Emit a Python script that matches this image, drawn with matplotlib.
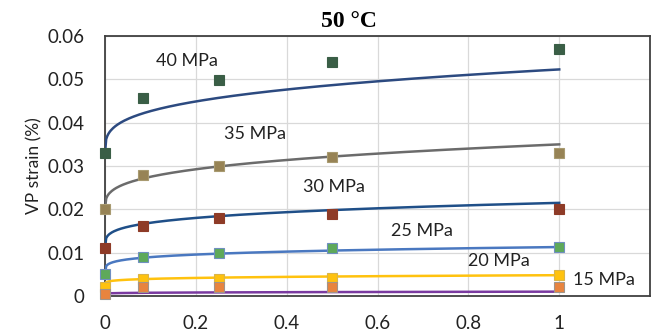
import numpy as np
import matplotlib
matplotlib.use("Agg")
import matplotlib.pyplot as plt

# Data (time, VP strain %)
t_obs = [0, 0.083, 0.25, 0.5, 1.0]
labels = ["40 MPa", "35 MPa", "30 MPa", "25 MPa", "20 MPa", "15 MPa"]
obs_40 = [0.033, 0.0458, 0.0498, 0.0540, 0.0571]
obs_35 = [0.0201, 0.0280, 0.0300, 0.0320, 0.0329]
obs_30 = [0.0110, 0.0162, 0.0180, 0.0190, 0.0200]
obs_25 = [0.0050, 0.0090, 0.0099, 0.0110, 0.0112]
obs_20 = [0.0020, 0.0040, 0.0040, 0.0042, 0.0049]
obs_15 = [0.0004, 0.0020, 0.0020, 0.0020, 0.0020]

# fitted curve parameters: eps = a + b * t^n
fit_a = [0.033, 0.020, 0.011, 0.005, 0.0025, 0.0005]
fit_b = [0.0193, 0.015, 0.0105, 0.0063, 0.0023, 0.0005]
fit_n = [0.30, 0.30, 0.25, 0.20, 0.20, 0.30]

marker_colors = ["#3a5e46", "#978355", "#8e3b27", "#5ea95a", "#ffc20e", "#e8843e"]
marker_edges = ["#3a5e46", "#a89a70", "#8e3b27", "#6f8fc0", "#d9b44a", "#a0948a"]
line_colors = ["#2c4a80", "#6b6b6b", "#1f4f88", "#4a78c0", "#ffc20e", "#7a3aa0"]

ann_x = [0.18, 0.33, 0.505, 0.697, 0.868, 1.099]
ann_y = [0.0542, 0.0374, 0.0252, 0.0150, 0.0081, 0.0037]

obs = [obs_40, obs_35, obs_30, obs_25, obs_20, obs_15]

fig = plt.figure(figsize=(6.54, 3.34), dpi=100)
ax = fig.add_axes([0.1606, 0.1138, 0.8334, 0.7782])

tt = np.linspace(0, 1, 400)
for i in range(len(labels)):
    ax.plot(tt, fit_a[i] + fit_b[i] * tt ** fit_n[i], color=line_colors[i],
            lw=1.8, zorder=3)
for i in range(len(labels)):
    ax.plot(t_obs, obs[i], ls="none", marker="s", ms=6.5,
            mfc=marker_colors[i], mec=marker_edges[i], mew=0.8, zorder=4,
            clip_on=False)

for i in range(len(labels)):
    ax.text(ann_x[i], ann_y[i], labels[i], ha="center", va="center",
            fontsize=13, family="Lato", color="#222222")

ax.set_xlim(0, 1.2)
ax.set_ylim(0, 0.06)
ax.set_xticks([0, 0.2, 0.4, 0.6, 0.8, 1.0, 1.2])
ax.set_xticklabels(["0", "0.2", "0.4", "0.6", "0.8", "1", ""])
ax.set_yticks([0, 0.01, 0.02, 0.03, 0.04, 0.05, 0.06])
ax.set_yticklabels(["0", "0.01", "0.02", "0.03", "0.04", "0.05", "0.06"])
ax.grid(True, color="#d9d9d9", lw=0.9)
ax.set_axisbelow(True)
ax.tick_params(length=0, labelsize=13.5, colors="#222222")
ax.tick_params(axis="x", pad=14)
ax.tick_params(axis="y", pad=15)
for lab in ax.get_xticklabels() + ax.get_yticklabels():
    lab.set_family("Lato")
for s in ax.spines.values():
    s.set_color("#404040")
    s.set_linewidth(1.3)

ax.set_ylabel("VP strain (%)", fontsize=12.5, family="Lato", color="#222222",
              labelpad=3)
fig.text(0.534, 0.935, "50 \u00b0C", fontsize=17, fontweight="bold",
         family="Liberation Serif", ha="center", va="center")

fig.savefig("out.png", dpi=100)
